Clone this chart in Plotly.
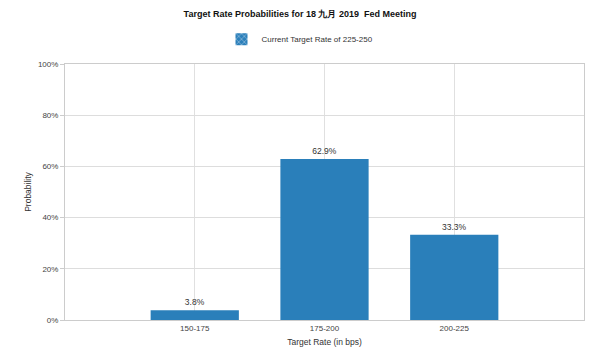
import plotly.graph_objects as go

categories = ["150-175", "175-200", "200-225"]
probabilities = [3.8, 62.9, 33.3]
labels = ["3.8%", "62.9%", "33.3%"]
y_ticks = [0, 20, 40, 60, 80, 100]
y_tick_text = ["0%", "20%", "40%", "60%", "80%", "100%"]

BLUE = "#2a7fba"
FONT = "Liberation Sans, Arial, sans-serif"

fig = go.Figure()
fig.add_trace(go.Bar(
    x=categories, y=probabilities, width=0.68,
    marker=dict(color=BLUE, line=dict(width=0)),
    text=labels, textposition="outside", cliponaxis=False,
    textfont=dict(size=8.5, color="#333333", family=FONT),
    showlegend=False, hoverinfo="skip",
))
fig.add_trace(go.Bar(
    x=[categories[0]], y=[None], width=0.68,
    name="Current Target Rate of 225-250",
    marker=dict(color=BLUE, pattern=dict(shape="x", fgcolor="white", size=5, solidity=0.3),
                line=dict(width=0)),
    showlegend=True,
))

fig.update_layout(
    width=600, height=356,
    margin=dict(l=65, r=16, t=64, b=36, autoexpand=False),
    paper_bgcolor="white", plot_bgcolor="white",
    barmode="overlay",
    font=dict(family=FONT, size=8, color="#444444"),
    title=dict(text="<b>Target Rate Probabilities for 18 九月 2019  Fed Meeting</b>",
               x=0.5, xanchor="center", y=0.962, yanchor="middle",
               font=dict(size=9, color="#111111", family=FONT)),
    legend=dict(orientation="h", x=0.5, xanchor="center", xref="container",
                yref="container", y=0.89, yanchor="middle", itemwidth=30,
                font=dict(size=8, color="#333333")),
    xaxis=dict(type="category", range=[-1, 3], showgrid=True, gridcolor="#e0e0e0",
               showline=True, linecolor="#cccccc", mirror=True, ticks="", automargin=False,
               tickfont=dict(size=8, color="#444444"),
               title=dict(text="Target Rate (in bps)", font=dict(size=8.5, color="#333333"), standoff=7),
               fixedrange=True),
    yaxis=dict(range=[0, 100], tickvals=y_ticks, ticktext=y_tick_text, automargin=False,
               showgrid=True, gridcolor="#dddddd", showline=True, linecolor="#cccccc",
               mirror=True, ticks="outside", ticklen=4, tickcolor="#cccccc",
               tickfont=dict(size=8, color="#444444"),
               title=dict(text="Probability", font=dict(size=8.5, color="#333333"), standoff=4),
               zeroline=False, fixedrange=True),
)

fig.write_html("out.html", post_script="document.body.style.margin='0';",
               config={"displayModeBar": False})
